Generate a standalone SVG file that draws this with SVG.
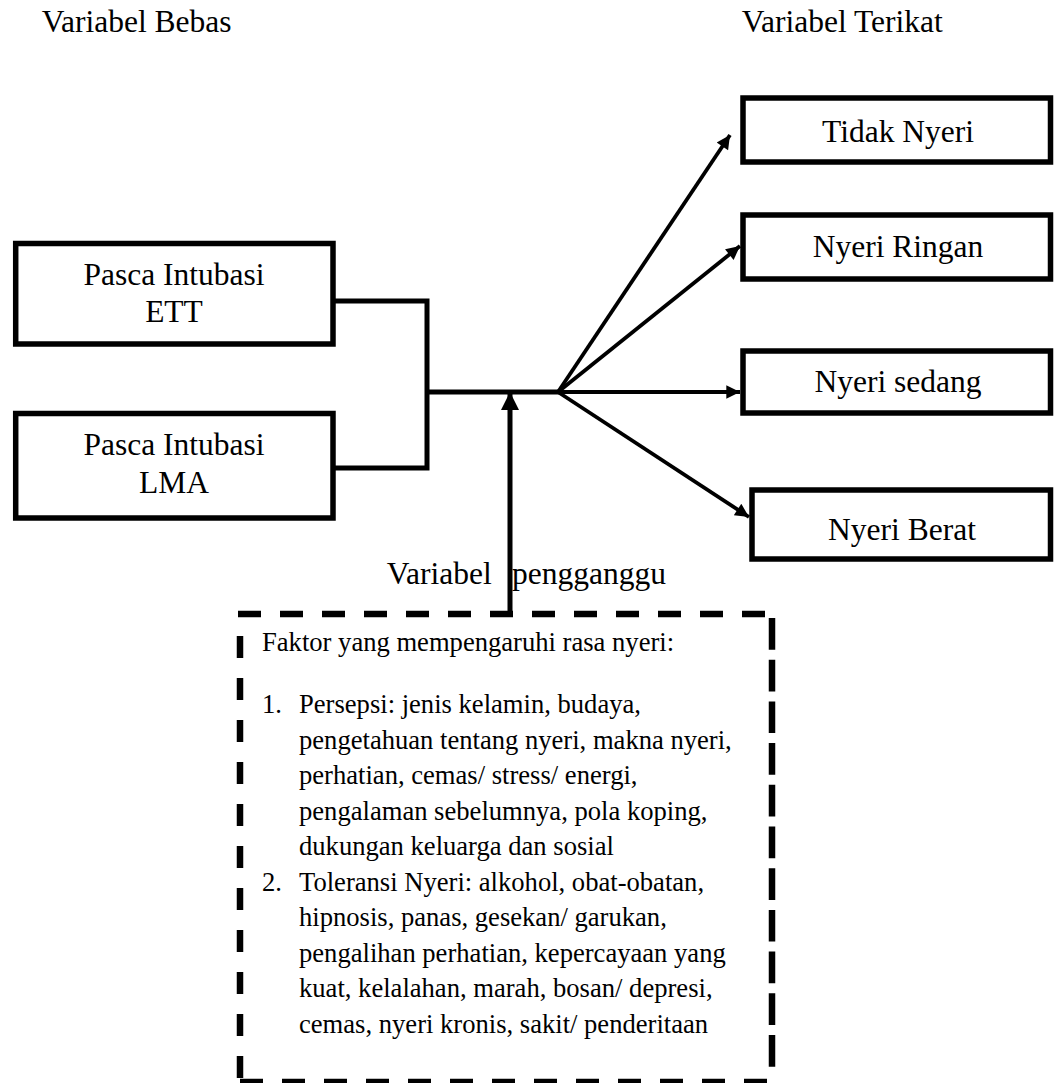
<svg xmlns="http://www.w3.org/2000/svg" width="1054" height="1083" viewBox="0 0 1054 1083">
<defs>
<style>
text{font-family:"Liberation Serif","Times New Roman",serif;fill:#000}
.lbl{font-size:31.5px}
.box{fill:#fff;stroke:#000;stroke-width:5.5}
.body{font-size:26.6px}
.wire{fill:none;stroke:#000;stroke-width:5}
.arr{fill:none;stroke:#000;stroke-width:3.8}
.dash{fill:none;stroke:#000;stroke-width:6.5}
.dh{stroke-dasharray:23 19}
.dl{stroke-dasharray:22 20}
.dr{stroke-dasharray:31.7 10}
</style>
<marker id="ah" viewBox="0 0 10 10" refX="10" refY="5" markerWidth="4.2" markerHeight="3.6" markerUnits="strokeWidth" orient="auto">
<path d="M0,0 L10,5 L0,10 Z" fill="#000"/>
</marker>
<marker id="ahv" viewBox="0 0 10 10" refX="10" refY="5" markerWidth="3.6" markerHeight="3.6" markerUnits="strokeWidth" orient="auto">
<path d="M0,0 L10,5 L0,10 Z" fill="#000"/>
</marker>
</defs>
<rect width="1054" height="1083" fill="#fff"/>
<g id="titles">
<text class="lbl" x="41.7" y="32">Variabel Bebas</text>
<text class="lbl" x="741.7" y="32">Variabel Terikat</text>
<text class="lbl" x="386.7" y="584">Variabel<tspan x="512">pengganggu</tspan></text>
</g>
<g id="connectors">
<polyline class="wire" points="333,301 427,301 427,468 333,468"/>
<line class="wire" x1="427" y1="392" x2="560" y2="392"/>
<line class="arr" x1="558" y1="392" x2="730" y2="135" marker-end="url(#ah)"/>
<line class="arr" x1="558" y1="392" x2="740" y2="246" marker-end="url(#ah)"/>
<line class="arr" x1="558" y1="392" x2="740" y2="392" marker-end="url(#ah)"/>
<line class="arr" x1="558" y1="392" x2="749" y2="517" marker-end="url(#ah)"/>
<line class="wire" x1="510" y1="616" x2="510" y2="392" marker-end="url(#ahv)"/>
</g>
<g id="node-ett">
<rect class="box" x="15.7" y="243.5" width="317.3" height="100.5"/>
<text class="lbl" x="174" y="285" text-anchor="middle">Pasca Intubasi</text>
<text class="lbl" x="174" y="322" text-anchor="middle">ETT</text>
</g>
<g id="node-lma">
<rect class="box" x="15.7" y="413.5" width="317.3" height="104.5"/>
<text class="lbl" x="174" y="455" text-anchor="middle">Pasca Intubasi</text>
<text class="lbl" x="174" y="493" text-anchor="middle">LMA</text>
</g>
<g id="node-tidak">
<rect class="box" x="743" y="98" width="307.5" height="64"/>
<text class="lbl" x="898" y="142" text-anchor="middle">Tidak Nyeri</text>
</g>
<g id="node-ringan">
<rect class="box" x="743" y="215" width="307.5" height="64"/>
<text class="lbl" x="898" y="257" text-anchor="middle">Nyeri Ringan</text>
</g>
<g id="node-sedang">
<rect class="box" x="743" y="351" width="307.5" height="62"/>
<text class="lbl" x="898" y="392" text-anchor="middle">Nyeri sedang</text>
</g>
<g id="node-berat">
<rect class="box" x="752" y="490" width="298.5" height="69"/>
<text class="lbl" x="902" y="540" text-anchor="middle">Nyeri Berat</text>
</g>
<g id="node-pengganggu">
<line class="dash dh" x1="238" y1="614" x2="772" y2="614"/>
<line class="dash dl" x1="240" y1="636" x2="240" y2="1083"/>
<line class="dash dr" x1="772" y1="618" x2="772" y2="1070"/>
<line class="dash dh" x1="240" y1="1082" x2="772" y2="1082"/>
<text class="body" x="262" y="651">Faktor yang mempengaruhi rasa nyeri:</text>
<text class="body" x="262" y="713">1.</text>
<text class="body" x="299" y="713">Persepsi: jenis kelamin, budaya,</text>
<text class="body" x="299" y="748.5">pengetahuan tentang nyeri, makna nyeri,</text>
<text class="body" x="299" y="784">perhatian, cemas/ stress/ energi,</text>
<text class="body" x="299" y="819.5">pengalaman sebelumnya, pola koping,</text>
<text class="body" x="299" y="855">dukungan keluarga dan sosial</text>
<text class="body" x="262" y="890.5">2.</text>
<text class="body" x="299" y="890.5">Toleransi Nyeri: alkohol, obat-obatan,</text>
<text class="body" x="299" y="926">hipnosis, panas, gesekan/ garukan,</text>
<text class="body" x="299" y="961.5">pengalihan perhatian, kepercayaan yang</text>
<text class="body" x="299" y="997">kuat, kelalahan, marah, bosan/ depresi,</text>
<text class="body" x="299" y="1032.5">cemas, nyeri kronis, sakit/ penderitaan</text>
</g>
</svg>
